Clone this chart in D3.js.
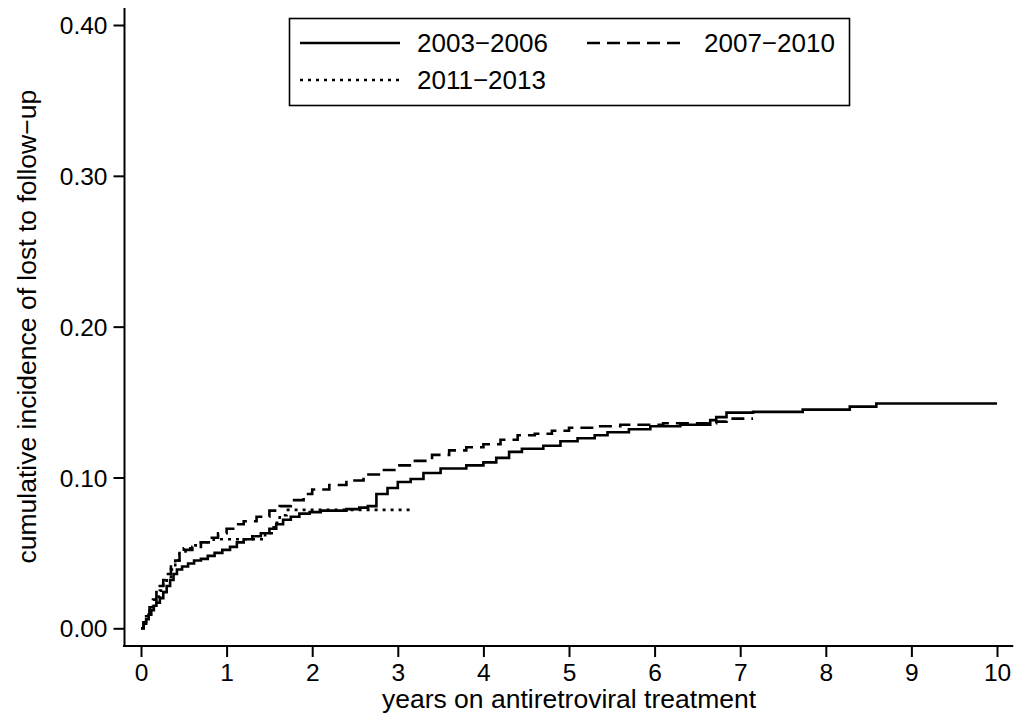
<!DOCTYPE html>
<html>
<head>
<meta charset="utf-8">
<script src="https://cdn.jsdelivr.net/npm/d3@7"></script>
<style>
  body { margin: 0; background: #fff; }
  #container { width: 1026px; height: 715px; }
  text { font-family: "Liberation Sans", Arial, Helvetica, sans-serif; fill: #000; }
</style>
</head>
<body>
<div id="container"></div>
<script>
// Series names, in legend order
const seriesNames = ["2003\u22122006", "2007\u22122010", "2011\u22122013"];

// Step curves: [years, cumulative incidence]
const period2003 = [
  [0,0],[0.03,0.003],[0.06,0.006],[0.09,0.009],[0.12,0.012],[0.15,0.015],[0.18,0.017],
  [0.22,0.02],[0.26,0.024],[0.3,0.028],[0.34,0.032],[0.38,0.036],[0.42,0.039],[0.48,0.041],
  [0.55,0.043],[0.62,0.045],[0.7,0.046],[0.78,0.048],[0.86,0.05],[0.95,0.052],[1.04,0.054],
  [1.12,0.057],[1.2,0.059],[1.3,0.061],[1.4,0.063],[1.5,0.066],[1.58,0.069],[1.66,0.072],
  [1.75,0.074],[1.85,0.076],[1.97,0.077],[2.1,0.078],[2.4,0.079],[2.55,0.08],[2.65,0.081],
  [2.75,0.089],[2.88,0.093],[3.0,0.097],[3.15,0.099],[3.3,0.103],[3.5,0.106],[3.8,0.108],
  [4.0,0.11],[4.15,0.113],[4.3,0.117],[4.45,0.119],[4.7,0.121],[4.9,0.124],[5.1,0.126],
  [5.3,0.128],[5.45,0.13],[5.7,0.132],[5.95,0.134],[6.3,0.135],[6.6,0.135],[6.65,0.138],
  [6.72,0.14],[6.84,0.143],[7.15,0.1435],[7.73,0.145],[8.28,0.147],[8.59,0.149],[10.0,0.149]
];
const period2007 = [
  [0,0],[0.03,0.004],[0.06,0.009],[0.1,0.014],[0.14,0.019],[0.18,0.024],[0.22,0.028],
  [0.26,0.032],[0.3,0.036],[0.35,0.041],[0.4,0.045],[0.45,0.049],[0.52,0.052],[0.6,0.054],
  [0.7,0.057],[0.8,0.06],[0.9,0.063],[1.0,0.066],[1.1,0.069],[1.2,0.071],[1.35,0.074],
  [1.5,0.078],[1.62,0.081],[1.75,0.085],[1.9,0.089],[2.0,0.092],[2.2,0.095],[2.4,0.098],
  [2.6,0.102],[2.8,0.105],[3.0,0.108],[3.2,0.111],[3.4,0.115],[3.6,0.118],[3.8,0.12],
  [4.0,0.122],[4.2,0.125],[4.4,0.128],[4.6,0.129],[4.8,0.131],[5.0,0.133],[5.3,0.134],
  [5.6,0.135],[6.1,0.136],[6.6,0.136],[6.72,0.137],[6.84,0.139],[7.15,0.139]
];
const period2011 = [
  [0,0],[0.03,0.004],[0.06,0.008],[0.1,0.013],[0.14,0.017],[0.18,0.021],[0.22,0.025],
  [0.26,0.029],[0.3,0.033],[0.35,0.039],[0.4,0.045],[0.45,0.051],[0.5,0.053],[0.6,0.055],
  [0.7,0.057],[0.85,0.059],[1.0,0.059],[1.35,0.059],[1.45,0.063],[1.55,0.07],[1.62,0.075],
  [1.7,0.0785],[3.14,0.0785]
];

const xTicks = [0,1,2,3,4,5,6,7,8,9,10];
const yTicks = [0, 0.1, 0.2, 0.3, 0.4];

const dashes = [null, "13,7", "3,5"];

// Set up svg
const width = 1026, height = 715;
const svg = d3.select("#container").append("svg")
  .attr("width", width)
  .attr("height", height);

const x = d3.scaleLinear().domain([0, 10]).range([141, 997]);
const y = d3.scaleLinear().domain([0, 0.4]).range([628.3, 25]);

// Axis lines (a bit longer than the tick range, like Stata)
svg.append("line")
  .attr("x1", x(-0.21)).attr("x2", x(10.19))
  .attr("y1", 646).attr("y2", 646)
  .attr("stroke", "#000").attr("stroke-width", 2);
svg.append("line")
  .attr("x1", 124.5).attr("x2", 124.5)
  .attr("y1", y(0.4112)).attr("y2", 647)
  .attr("stroke", "#000").attr("stroke-width", 2);

// x axis ticks
const xAxis = svg.append("g")
  .attr("transform", "translate(0,646)")
  .call(d3.axisBottom(x).tickValues(xTicks).tickSize(11).tickPadding(6).tickFormat(d3.format("d")));
xAxis.select(".domain").remove();
xAxis.selectAll("line").attr("stroke-width", 2);
xAxis.selectAll("text").attr("font-size", 24.5).attr("font-family", null).attr("dy", "0.72em");

// y axis ticks
const yAxis = svg.append("g")
  .attr("transform", "translate(124.5,0)")
  .call(d3.axisLeft(y).tickValues(yTicks).tickSize(11).tickPadding(6).tickFormat(d3.format(".2f")));
yAxis.select(".domain").remove();
yAxis.selectAll("line").attr("stroke-width", 2);
yAxis.selectAll("text").attr("font-size", 24.5).attr("font-family", null).attr("dy", "0.35em");

// Axis titles
svg.append("text")
  .attr("x", (x(0) + x(10)) / 2)
  .attr("y", 708)
  .attr("text-anchor", "middle")
  .attr("font-size", 26.5)
  .text("years on antiretroviral treatment");

svg.append("text")
  .attr("transform", `translate(36,${(y(0) + y(0.4)) / 2}) rotate(-90)`)
  .attr("text-anchor", "middle")
  .attr("font-size", 26.5)
  .text("cumulative incidence of lost to follow\u2212up");

// Curves
const line = d3.line()
  .x(d => x(d[0]))
  .y(d => y(d[1]))
  .curve(d3.curveStepAfter);

const allSeries = [period2003, period2007, period2011];
svg.selectAll("path.km")
  .data(allSeries)
  .enter().append("path")
  .attr("class", "km")
  .attr("d", line)
  .attr("fill", "none")
  .attr("stroke", "#000")
  .attr("stroke-width", 2.6)
  .attr("stroke-dasharray", (d, i) => dashes[i]);

// Legend
const legend = svg.append("g");
legend.append("rect")
  .attr("x", 289.5).attr("y", 18.5)
  .attr("width", 560).attr("height", 87)
  .attr("fill", "#fff")
  .attr("stroke", "#000")
  .attr("stroke-width", 1.6);

const legendPos = [[300, 43], [587, 43], [300, 80]];
seriesNames.forEach((name, i) => {
  const [lx, ly] = legendPos[i];
  legend.append("line")
    .attr("x1", lx).attr("x2", lx + 100)
    .attr("y1", ly).attr("y2", ly)
    .attr("stroke", "#000")
    .attr("stroke-width", 2.6)
    .attr("stroke-dasharray", dashes[i]);
  legend.append("text")
    .attr("x", lx + 117)
    .attr("y", ly + 9)
    .attr("font-size", 26)
    .text(name);
});
</script>
</body>
</html>
